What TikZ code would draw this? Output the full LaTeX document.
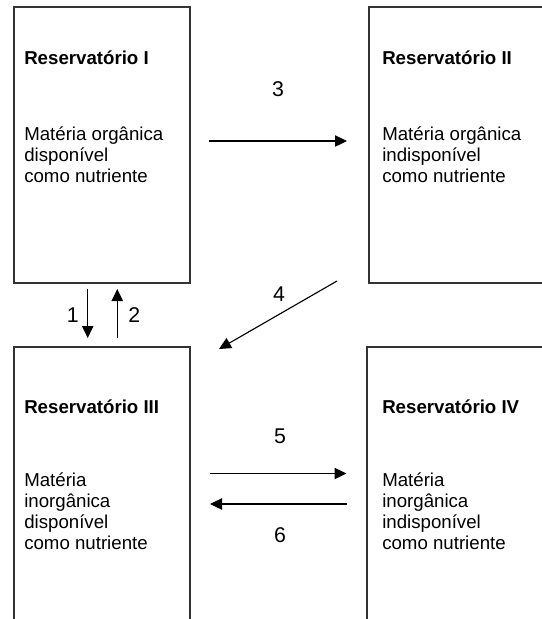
\documentclass[tikz,border=0pt]{standalone}
\usepackage{fontspec}
\setmainfont{Liberation Sans}
\usetikzlibrary{arrows.meta}
\begin{document}
\begin{tikzpicture}[x=0.75pt,y=-0.75pt,
  resbox/.style={draw=black!80, line width=1.1pt, inner sep=0pt,
    minimum width=132pt, minimum height=207pt},
  txt/.style={font=\fontsize{14}{15.6}\selectfont, anchor=base west, inner sep=0pt},
  ttl/.style={font=\fontsize{14}{15.6}\selectfont\bfseries, anchor=base west, inner sep=0pt},
  num/.style={font=\fontsize{16}{19}\selectfont, inner sep=0pt},
  flow/.style={-{Triangle[length=9pt,width=8.5pt]}, line width=0.85pt, black}]
\useasboundingbox (0,0) rectangle (542,619);
\clip (0,0) rectangle (542,619);
% boxes
\node[resbox] (r1) at (102,145) {};
\node[resbox] (r2) at (457,145) {};
\node[resbox] (r3) at (102,485) {};
\node[resbox] (r4) at (455,485) {};
% texts
\node[ttl] (t1) at (24,64) {Reservatório I};
\node[txt] (d1) at (24,140.5) {\begin{tabular}[t]{@{}l@{}}Matéria orgânica\\ disponível\\ como nutriente\end{tabular}};
\node[ttl] (t2) at (382,64) {Reservatório II};
\node[txt] (d2) at (382,140.5) {\begin{tabular}[t]{@{}l@{}}Matéria orgânica\\ indisponível\\ como nutriente\end{tabular}};
\node[ttl] (t3) at (24,413.5) {Reservatório III};
\node[txt] (d3) at (24,486.7) {\begin{tabular}[t]{@{}l@{}}Matéria\\ inorgânica\\ disponível\\ como nutriente\end{tabular}};
\node[ttl] (t4) at (382,413.5) {Reservatório IV};
\node[txt] (d4) at (382,486.7) {\begin{tabular}[t]{@{}l@{}}Matéria\\ inorgânica\\ indisponível\\ como nutriente\end{tabular}};
% arrow end points
\coordinate (a1s) at (87.7,289);  \coordinate (a1e) at (87.7,338);
\coordinate (a2s) at (117.3,338); \coordinate (a2e) at (117.3,289);
\coordinate (a3s) at (209,141);   \coordinate (a3e) at (347,141);
\coordinate (a4s) at (337,281);   \coordinate (a4e) at (219,349);
\coordinate (a5s) at (210,473.5); \coordinate (a5e) at (346.5,473.5);
\coordinate (a6s) at (347,504);   \coordinate (a6e) at (210,504);
\draw[flow] (a1s) -- (a1e);
\draw[flow] (a2s) -- (a2e);
\draw[flow] (a3s) -- (a3e);
\draw[flow] (a4s) -- (a4e);
\draw[flow] (a5s) -- (a5e);
\draw[flow] (a6s) -- (a6e);
% labels
\node[num] (n1) at (72.7,315) {1};
\node[num] (n2) at (134.3,315) {2};
\node[num] (n3) at (278,89) {3};
\node[num] (n4) at (279,294.5) {4};
\node[num] (n5) at (280,436.5) {5};
\node[num] (n6) at (280,535) {6};
\end{tikzpicture}
\end{document}
